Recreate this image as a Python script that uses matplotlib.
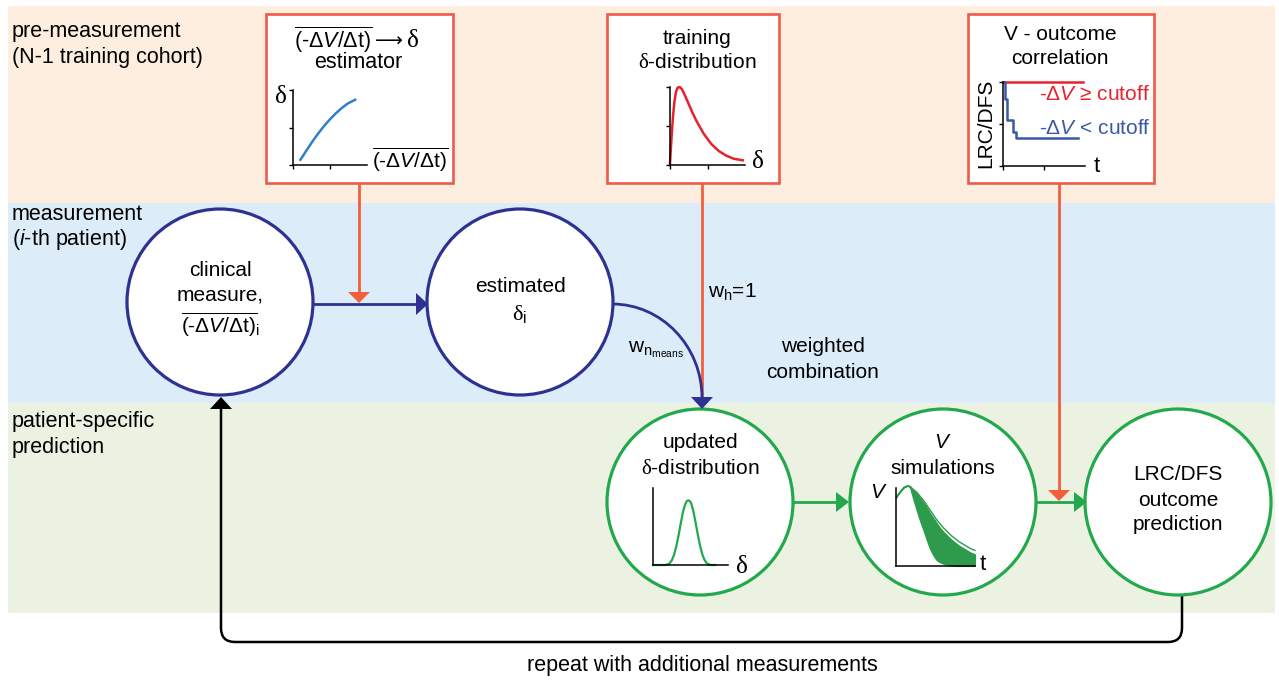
import matplotlib
matplotlib.use('Agg')
import matplotlib.pyplot as plt
from matplotlib.patches import Circle, Rectangle, Polygon, PathPatch
from matplotlib.path import Path

plt.rcParams['font.family'] = ['Liberation Sans', 'DejaVu Sans']
plt.rcParams['mathtext.fontset'] = 'custom'
plt.rcParams['mathtext.rm'] = 'Liberation Sans'
plt.rcParams['mathtext.it'] = 'Liberation Sans:italic'
plt.rcParams['mathtext.sf'] = 'Liberation Serif'

# ---------------- data ----------------
# estimator curve  delta vs mean(-dV/dt)
est_x = [0.10, 0.18, 0.26, 0.34, 0.42, 0.50, 0.58, 0.66, 0.74, 0.84]
est_y = [0.07, 0.19, 0.31, 0.42, 0.52, 0.61, 0.69, 0.76, 0.82, 0.87]
# training delta-distribution
train_x = [0.0, 0.02, 0.04, 0.06, 0.08, 0.10, 0.13, 0.16, 0.20, 0.25, 0.30, 0.35,
           0.45, 0.55, 0.65, 0.75, 0.85, 0.97]
train_y = [0.02, 0.35, 0.62, 0.82, 0.94, 0.99, 1.00, 0.97, 0.89, 0.78, 0.67, 0.57,
           0.40, 0.27, 0.18, 0.12, 0.08, 0.06]
# V - outcome correlation (Kaplan-Meier like steps)
km_hi_t = [0.0, 0.98]
km_hi_s = [1.0, 1.0]
km_lo_t = [0.0, 0.02, 0.05, 0.12, 0.16, 0.91]
km_lo_s = [1.0, 0.80, 0.55, 0.40, 0.33, 0.33]
# updated delta-distribution
upd_x = [0.0, 0.17, 0.22, 0.25, 0.28, 0.31, 0.34, 0.37, 0.40, 0.43, 0.45, 0.47, 0.49,
         0.51, 0.54, 0.57, 0.60, 0.63, 0.66, 0.69, 0.72, 0.77, 0.83]
upd_y = [0.0, 0.0, 0.02, 0.06, 0.13, 0.24, 0.38, 0.54, 0.69, 0.79, 0.83, 0.84, 0.83,
         0.80, 0.69, 0.54, 0.38, 0.24, 0.13, 0.06, 0.02, 0.0, 0.0]
# V simulations envelope
sim_t = [0.0, 0.05, 0.10, 0.15, 0.18, 0.22, 0.26, 0.30, 0.35, 0.39, 0.43, 0.47, 0.51,
         0.55, 0.60, 0.65, 0.70, 0.75, 0.80, 0.85, 0.90, 0.95, 1.0]
sim_hi = [0.88, 0.95, 1.01, 1.03, 1.02, 0.97, 0.93, 0.88, 0.81, 0.75, 0.68, 0.62, 0.56,
          0.50, 0.44, 0.39, 0.34, 0.30, 0.26, 0.23, 0.20, 0.17, 0.15]
sim_lo = [0.88, 0.95, 1.01, 1.03, 1.00, 0.85, 0.72, 0.59, 0.45, 0.33, 0.22, 0.14, 0.08,
          0.05, 0.03, 0.015, 0.005, 0.0, 0.0, 0.0, 0.0, 0.0, 0.0]
sim_out = [0.88, 0.95, 1.01, 1.03, 1.02, 0.98, 0.95, 0.90, 0.84, 0.78, 0.72, 0.66, 0.60,
           0.55, 0.49, 0.44, 0.39, 0.35, 0.31, 0.28, 0.25, 0.22, 0.20]

# ---------------- colours ----------------
PEACH = '#fdeee0'
SKY = '#dcedf9'
SAGE = '#ebf2e2'
NAVY = '#2e3192'
GREEN = '#23a84b'
DGREEN = '#2e9a4c'
BOXRED = '#ef5a4b'
ARROWRED = '#f1603a'
CRED = '#e7222c'
CBLUE = '#3a58a8'
LBLUE = '#2f7fc9'

W, H = 1279, 681
fig = plt.figure(figsize=(W / 100, H / 100), dpi=100)
fig.patch.set_facecolor('white')
ax = fig.add_axes([0, 0, 1, 1])
ax.set_xlim(0, W)
ax.set_ylim(H, 0)
ax.axis('off')

FS = 15
FB = 15.5

# bands
ax.add_patch(Rectangle((8, 6), 1267, 197, fc=PEACH, ec='none', zorder=0))
ax.add_patch(Rectangle((8, 203), 1267, 200, fc=SKY, ec='none', zorder=0))
ax.add_patch(Rectangle((8, 403), 1267, 210, fc=SAGE, ec='none', zorder=0))

ax.text(12, 32, 'pre-measurement', fontsize=FB, ha='left', va='center')
ax.text(12, 57, '(N-1 training cohort)', fontsize=FB, ha='left', va='center')
ax.text(12, 215, 'measurement', fontsize=FB, ha='left', va='center')
ax.text(12, 240, '($\\mathit{i}$-th patient)', fontsize=FB, ha='left', va='center')
ax.text(12, 422, 'patient-specific', fontsize=FB, ha='left', va='center')
ax.text(12, 447, 'prediction', fontsize=FB, ha='left', va='center')


def head(tip, direction, color, length=12, half=10, z=5):
    x, y = tip
    if direction == 'down':
        pts = [(x, y), (x - half, y - length), (x + half, y - length)]
    elif direction == 'up':
        pts = [(x, y), (x - half, y + length), (x + half, y + length)]
    else:  # right
        pts = [(x, y), (x - length, y - half), (x - length, y + half)]
    ax.add_patch(Polygon(pts, closed=True, fc=color, ec='none', zorder=z))


# red boxes
boxes = [(266, 14, 453, 183), (607, 14, 779, 183), (968, 14, 1154, 183)]
for (x0, y0, x1, y1) in boxes:
    ax.add_patch(Rectangle((x0, y0), x1 - x0, y1 - y0, fc='white', ec=BOXRED, lw=1.9, zorder=3))

# connectors from boxes
ax.plot([359, 359], [183, 293], color=ARROWRED, lw=2.0, zorder=2)
ax.plot([702, 702], [183, 398], color=ARROWRED, lw=2.0, zorder=2)
ax.plot([1059, 1059], [183, 490], color=ARROWRED, lw=2.0, zorder=2)

# circles
circles = [(220, 302, NAVY), (520, 302, NAVY), (700, 502, GREEN), (943, 502, GREEN), (1178, 502, GREEN)]
for cx, cy, col in circles:
    ax.add_patch(Circle((cx, cy), 93, fc='white', ec=col, lw=2.3, zorder=3))

# navy arrow circle1 -> circle2
ax.plot([313, 416], [304, 304], color=NAVY, lw=2.0, zorder=2)
head((428, 304), 'right', NAVY, length=12, half=11)
head((359, 303), 'down', ARROWRED, length=11, half=11, z=6)

# navy arc circle2 -> circle3
k = 0.552
arc = Path([(612, 304), (612 + k * 90, 304), (702, 398 - k * 94), (702, 398)],
           [Path.MOVETO, Path.CURVE4, Path.CURVE4, Path.CURVE4])
ax.add_patch(PathPatch(arc, fc='none', ec=NAVY, lw=2.0, zorder=2))
head((702, 409), 'down', NAVY, length=12, half=11)

# green arrows
ax.plot([793, 836], [502, 502], color=GREEN, lw=2.0, zorder=2)
head((849, 502), 'right', GREEN, length=13, half=10)
ax.plot([1036, 1075], [502, 502], color=GREEN, lw=2.0, zorder=2)
head((1087, 502), 'right', GREEN, length=13, half=10)
head((1059, 501), 'down', ARROWRED, length=11, half=11, z=6)

# black feedback loop
loop = Path([(1182, 595), (1182, 628), (1182, 642), (1168, 642), (235, 642), (221, 642),
             (221, 628), (221, 408)],
            [Path.MOVETO, Path.LINETO, Path.CURVE3, Path.CURVE3, Path.LINETO, Path.CURVE3,
             Path.CURVE3, Path.LINETO])
ax.add_patch(PathPatch(loop, fc='none', ec='black', lw=1.8, zorder=2))
head((221, 397), 'up', 'black', length=12, half=11)
ax.text(702, 665, 'repeat with additional measurements', fontsize=FB, ha='center', va='center')

# labels in blue band
ax.text(708, 292, 'w$_\\mathrm{h}$=1', fontsize=FS, ha='left', va='center')
ax.text(628, 350, 'w$_{\\mathrm{n}_{\\mathrm{means}}}$', fontsize=FS, ha='left', va='center')
ax.text(823, 347, 'weighted', fontsize=FS, ha='center', va='center')
ax.text(823, 372, 'combination', fontsize=FS, ha='center', va='center')

# circle texts
OVL = '$\\overline{\\text{(-}\\Delta V\\text{/}\\Delta\\text{t)}}$'
OVL_I = '$\\overline{\\text{(-}\\Delta V\\text{/}\\Delta\\text{t)}}_{\\mathrm{i}}$'
ax.text(220, 270, 'clinical', fontsize=FS, ha='center', va='center', zorder=6)
ax.text(220, 295, 'measure,', fontsize=FS, ha='center', va='center', zorder=6)
ax.text(220, 325, OVL_I, fontsize=FS, ha='center', va='center', zorder=6)
ax.text(520, 287, 'estimated', fontsize=FS, ha='center', va='center', zorder=6)
ax.text(520, 315, '$\\mathsf{\\delta}_{\\mathrm{i}}$', fontsize=FS + 1, ha='center', va='center', zorder=6)
ax.text(700, 443, 'updated', fontsize=FS, ha='center', va='center', zorder=6)
ax.text(700, 468, '$\\mathsf{\\delta}$-distribution', fontsize=FS, ha='center', va='center', zorder=6)
ax.text(943, 443, '$V$', fontsize=FS, ha='center', va='center', zorder=6)
ax.text(943, 468, 'simulations', fontsize=FS, ha='center', va='center', zorder=6)
ax.text(1178, 475, 'LRC/DFS', fontsize=FS, ha='center', va='center', zorder=6)
ax.text(1178, 500, 'outcome', fontsize=FS, ha='center', va='center', zorder=6)
ax.text(1178, 525, 'prediction', fontsize=FS, ha='center', va='center', zorder=6)

# box texts
ax.text(372, 40, OVL, fontsize=FS + 0.5, ha='right', va='center', zorder=6)
ax.text(389, 41, '⟶', fontsize=FS - 1, ha='center', va='center', zorder=6,
        family=['DejaVu Sans'])
ax.text(412, 40, '$\\mathsf{\\delta}$', fontsize=FS + 3, ha='center', va='center', zorder=6)
ax.text(358, 63, 'estimator', fontsize=FS + 0.5, ha='center', va='center', zorder=6)
ax.text(280, 96, '$\\mathsf{\\delta}$', fontsize=FS + 3, ha='center', va='center', zorder=6)
ax.text(410, 160, OVL, fontsize=FS, ha='center', va='center', zorder=6)
ax.text(697, 38, 'training', fontsize=FS, ha='center', va='center', zorder=6)
ax.text(697, 62, '$\\mathsf{\\delta}$-distribution', fontsize=FS, ha='center', va='center', zorder=6)
ax.text(757, 161, '$\\mathsf{\\delta}$', fontsize=FS + 3, ha='center', va='center', zorder=6)
ax.text(1060, 35, 'V - outcome', fontsize=FS, ha='center', va='center', zorder=6)
ax.text(1060, 58, 'correlation', fontsize=FS, ha='center', va='center', zorder=6)
ax.text(986, 123, 'LRC/DFS', fontsize=FS, ha='center', va='center', rotation=90, zorder=6)
ax.text(1094, 95, '-Δ$V$ ≥ cutoff', fontsize=FS, ha='center', va='center', color=CRED, zorder=6)
ax.text(1095, 128, '-Δ$V$ < cutoff', fontsize=FS, ha='center', va='center', color=CBLUE, zorder=6)
ax.text(1097, 167, 't', fontsize=FS + 1, ha='center', va='center', zorder=6)
ax.text(741, 566, '$\\mathsf{\\delta}$', fontsize=FS + 3, ha='center', va='center', zorder=6)
ax.text(879, 492, '$V$', fontsize=FS, ha='center', va='center', zorder=6)
ax.text(983, 565, 't', fontsize=FS + 1, ha='center', va='center', zorder=6)


def inset(x0, y0, x1, y1, ticks=True):
    a = fig.add_axes([x0 / W, 1 - y1 / H, (x1 - x0) / W, (y1 - y0) / H])
    a.set_facecolor('none')
    a.set_xlim(0, 1)
    a.set_ylim(0, 1)
    for s in ('top', 'right'):
        a.spines[s].set_visible(False)
    for s in ('left', 'bottom'):
        a.spines[s].set_linewidth(1.1)
    if ticks:
        a.set_xticks([0, 0.5])
        a.set_yticks([0, 0.5, 1])
        a.tick_params(length=3, width=1, labelleft=False, labelbottom=False)
    else:
        a.set_xticks([])
        a.set_yticks([])
    return a


a1 = inset(293, 90, 367, 165)
a1.plot(est_x, est_y, color=LBLUE, lw=1.8, clip_on=False)

a2 = inset(670, 87, 745, 165)
a2.plot(train_x, train_y, color=CRED, lw=1.8, clip_on=False)

a3 = inset(1003, 82, 1085, 166)
a3.step(km_hi_t, km_hi_s, where='post', color=CRED, lw=1.8, clip_on=False)
a3.step(km_lo_t, km_lo_s, where='post', color=CBLUE, lw=1.8, clip_on=False)

a4 = inset(653, 488, 728, 565, ticks=False)
a4.plot(upd_x, upd_y, color=GREEN, lw=1.6, clip_on=False)

a5 = inset(896, 488, 975, 566, ticks=False)
a5.plot(sim_t, sim_out, color=DGREEN, lw=1.0, clip_on=False)
a5.fill_between(sim_t, sim_lo, sim_hi, color=DGREEN, lw=0.8, ec=DGREEN, clip_on=False)

fig.savefig('out.png', dpi=100)
